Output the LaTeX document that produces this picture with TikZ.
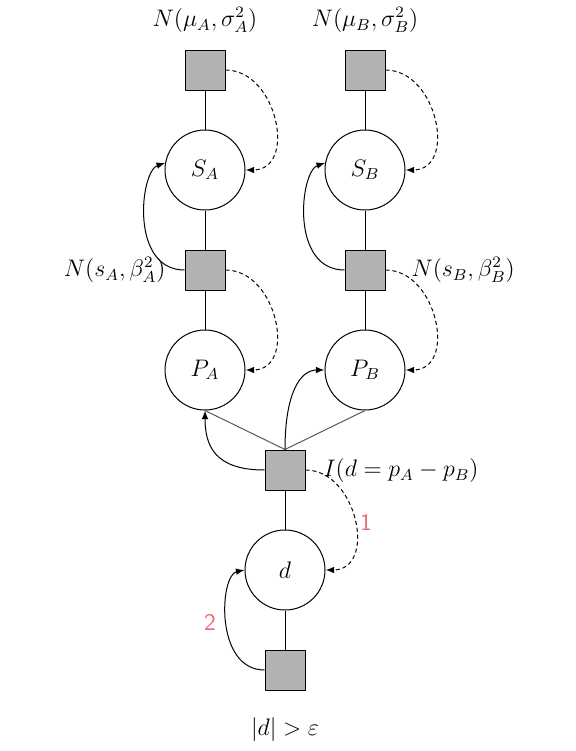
\documentclass[tikz,border=0pt]{standalone}
\usetikzlibrary{arrows}
\definecolor{factorfill}{rgb}{0.7,0.7,0.7}
\definecolor{numcol}{rgb}{0.93,0.40,0.45}
\tikzset{
  factor/.style={draw, fill=factorfill, minimum size=20bp, inner sep=0pt},
  var/.style={draw, circle, minimum size=40bp, inner sep=0pt, font=\large},
  lbl/.style={inner sep=0pt, font=\large},
  msg/.style={->, dash pattern=on 2bp off 1.5bp},
  num/.style={inner sep=0pt, text=numcol, font=\sffamily\large},
}
\begin{document}
\begin{tikzpicture}[>=latex,line join=bevel,x=0.5bp,y=-0.5bp]
  \pgfsetlinewidth{0.5bp}
  \useasboundingbox (0,0) rectangle (576,751);
%%
  % Node: priors
  \node[factor] (fA1) at (205,70) {};
  \node[factor] (fB1) at (365,70) {};
  \node[lbl] (priorA) at (205,20) {$N(\mu_A,\sigma_A^2)$};
  \node[lbl] (priorB) at (365,20) {$N(\mu_B,\sigma_B^2)$};
  % Node: skills
  \node[var] (SA) at (205,170) {$S_A$};
  \node[var] (SB) at (365,170) {$S_B$};
  % Node: performance factors
  \node[factor] (fA2) at (205,270) {};
  \node[factor] (fB2) at (365,270) {};
  \node[lbl, anchor=east] (perfA) at (166,270) {$N(s_A,\beta_A^2)$};
  \node[lbl, anchor=west] (perfB) at (411,270) {$N(s_B,\beta_B^2)$};
  % Node: performances
  \node[var] (PA) at (205,370) {$P_A$};
  \node[var] (PB) at (365,370) {$P_B$};
  % Node: difference
  \node[factor] (fI) at (285,470) {};
  \node[lbl, anchor=west] (diff) at (323,471) {$I(d=p_A-p_B)$};
  \node[var] (d) at (285,570) {$d$};
  \node[factor] (fD) at (285,670) {};
  \node[lbl] (obs) at (285,730) {$|d|>\varepsilon$};
  % Node: step numbers
  \node[num] (one) at (366,522) {1};
  \node[num] (two) at (210,622) {2};
%%
  % Edge: factor -- variable
  \draw (fA1) -- (SA) -- (fA2) -- (PA);
  \draw (fB1) -- (SB) -- (fB2) -- (PB);
  \draw (fI) -- (d) -- (fD);
  \draw [black!65] (fI.north) -- (PA.south);
  \draw [black!65] (fI.north) -- (PB.south);
  % Edge: messages down
  \draw [msg] (fA1.east) .. controls +(52,0) and +(52,0) .. (SA.east);
  \draw [msg] (fB1.east) .. controls +(52,0) and +(52,0) .. (SB.east);
  \draw [msg] (fA2.east) .. controls +(52,0) and +(52,0) .. (PA.east);
  \draw [msg] (fB2.east) .. controls +(52,0) and +(52,0) .. (PB.east);
  \draw [msg] (fI.east) .. controls +(52,0) and +(52,0) .. (d.east);
  % Edge: messages up
  \draw [->] (fA2.west) .. controls +(-55,0) and +(-25,8) .. (SA.170);
  \draw [->] (fB2.west) .. controls +(-55,0) and +(-25,8) .. (SB.170);
  \draw [->] (fI.west) .. controls +(-50,0) and +(0,35) .. (PA.south);
  \draw [->] (fI.north) .. controls +(0,-55) and +(-25,0) .. (PB.west);
  \draw [->] (fD.west) .. controls +(-50,0) and +(-25,5) .. (d.west);
%
\end{tikzpicture}
\end{document}
